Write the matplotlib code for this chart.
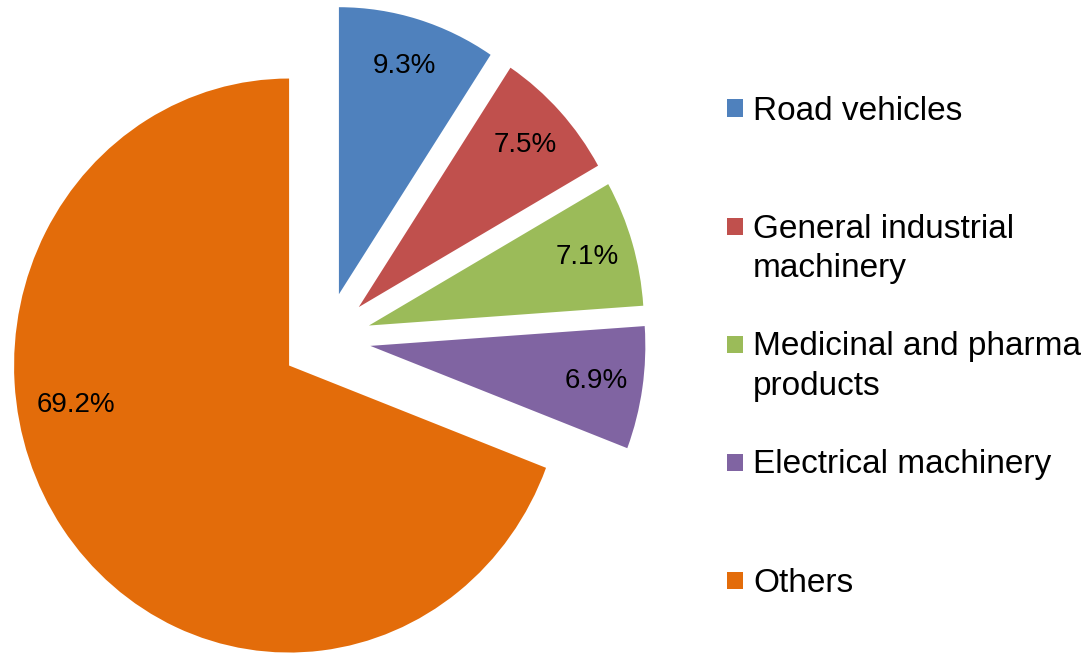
import matplotlib
matplotlib.use("Agg")
import matplotlib.pyplot as plt
from matplotlib.patches import Rectangle

# data
categories = [
    "Road vehicles",
    "General industrial\nmachinery",
    "Medicinal and pharma\nproducts",
    "Electrical machinery",
    "Others",
]
shares = [9.3, 7.5, 7.1, 6.9, 69.2]
colors = ["#4F81BD", "#C0504D", "#9BBB59", "#8064A2", "#E36C0A"]

plt.rcParams["font.family"] = ["Liberation Sans", "DejaVu Sans"]

W, H = 1087, 653
fig = plt.figure(figsize=(W / 100, H / 100), dpi=100)

# the pie in the source is a little taller than wide
rx, ry = 275, 287
cx, cy = 326, 339
ax = fig.add_axes([(cx - 1.5 * rx) / W, (H - cy - 1.5 * ry) / H, 3 * rx / W, 3 * ry / H])

wedges, texts, pcts = ax.pie(
    shares,
    colors=colors,
    startangle=90,
    counterclock=False,
    explode=[0.163] * len(shares),
    autopct="%.1f%%",
    pctdistance=0.83,
    textprops=dict(fontsize=20, color="black"),
)
ax.set_aspect("auto")
ax.set_xlim(-1.5, 1.5)
ax.set_ylim(-1.5, 1.5)
ax.axis("off")

# the big slice has its label pushed to the left edge
pcts[-1].set_position((-0.91, -0.23))

# legend, marker lined up with the first line of each label
for i, (name, col) in enumerate(zip(categories, colors)):
    y = 108 + i * 118
    fig.add_artist(Rectangle((727 / W, 1 - (y + 8.5) / H), 16 / W, 17 / H,
                             transform=fig.transFigure, facecolor=col, edgecolor="none"))
    fig.text(753 / W, 1 - (y - 12.5) / H, name, fontsize=24, ha="left",
             va="top", linespacing=1.36)

fig.savefig("out.png", dpi=100)
